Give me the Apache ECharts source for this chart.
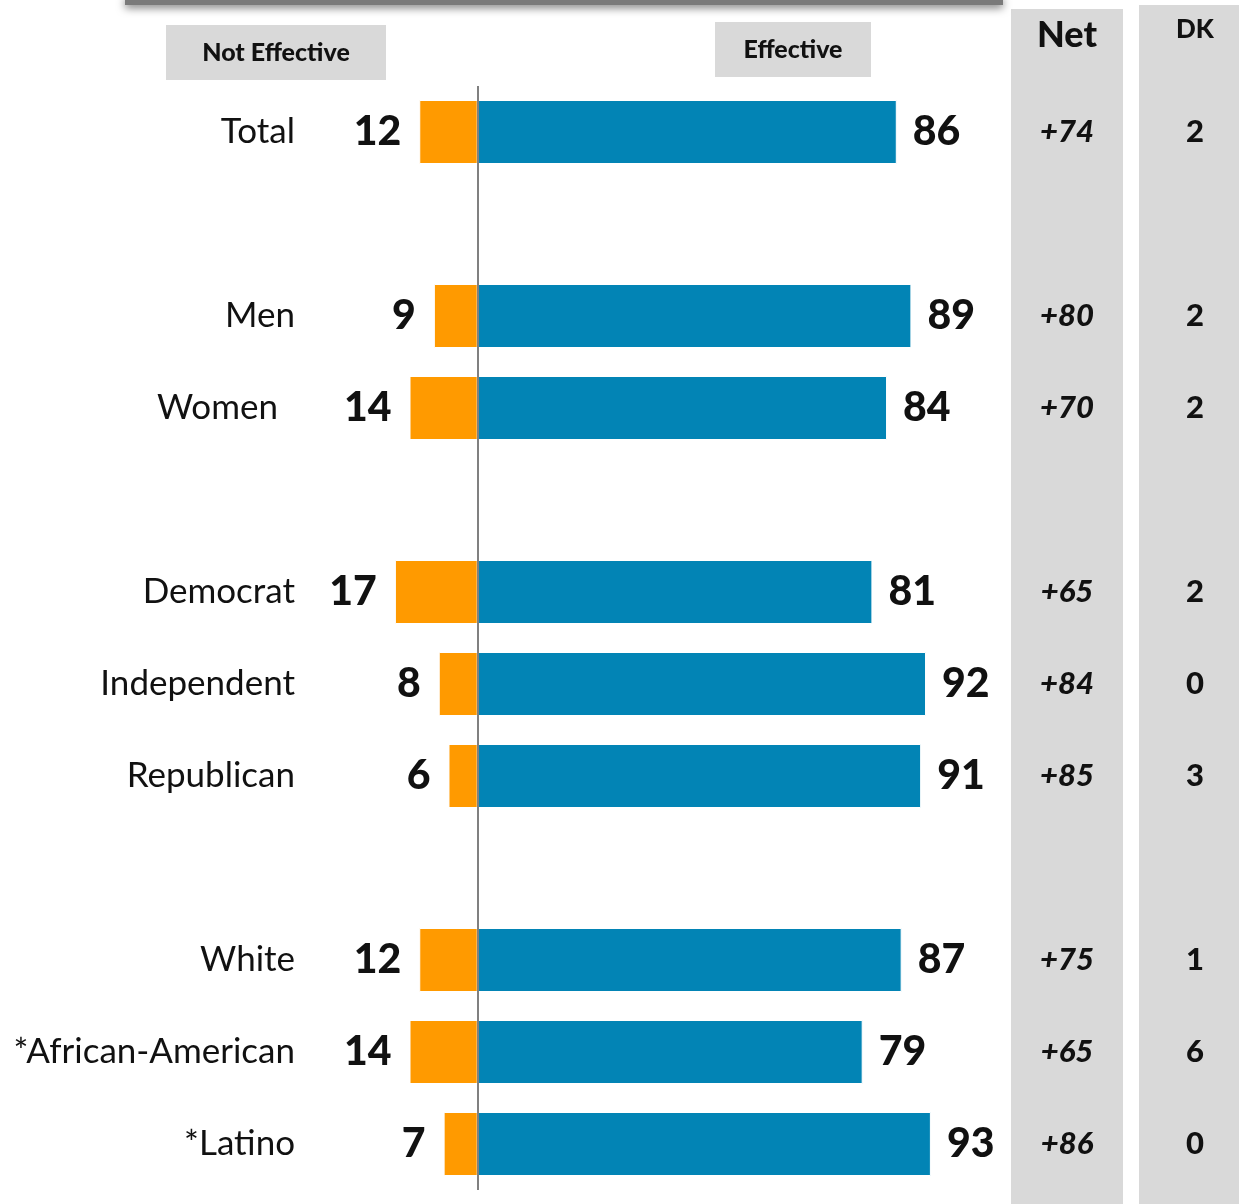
<!DOCTYPE html>
<html>
<head>
<meta charset="utf-8">
<script src="https://cdn.jsdelivr.net/npm/echarts@6/dist/echarts.min.js"></script>
<style>
  html, body { margin: 0; padding: 0; background: #fff; }
  #chart { width: 1239px; height: 1204px; }
</style>
</head>
<body>
<div id="chart"></div>
<script>
// rows with '' are spacer rows between groups
const categories = ['Total', '', 'Men', 'Women', '', 'Democrat', 'Independent', 'Republican', '', 'White', '*African-American', '*Latino'];
const notEffective = [12, null, 9, 14, null, 17, 8, 6, null, 12, 14, 7];
const effective = [86, null, 89, 84, null, 81, 92, 91, null, 87, 79, 93];
const net = [74, null, 80, 70, null, 65, 84, 85, null, 75, 65, 86];
const dk = [2, null, 2, 2, null, 2, 0, 3, null, 1, 6, 0];

const FONT = 'Lato, "Open Sans", sans-serif';

const chart = echarts.init(document.getElementById('chart'));

const netLabels = net.map(v => (v == null ? '' : '+' + v));
const dkLabels = dk.map(v => (v == null ? '' : String(v)));

const option = {
  animation: false,
  textStyle: { fontFamily: FONT },
  graphic: [
    // shadowed rule at top
    {
      type: 'rect', shape: { x: 125, y: -4, width: 878, height: 9 },
      style: { fill: '#7a7a7a', shadowBlur: 9, shadowOffsetY: 3, shadowColor: 'rgba(0,0,0,0.5)' },
      z: 10
    },
    // column backgrounds
    { type: 'rect', shape: { x: 1011, y: 9, width: 112, height: 1200 }, style: { fill: '#d9d9d9' }, z: -10 },
    { type: 'rect', shape: { x: 1139, y: 5, width: 100, height: 1204 }, style: { fill: '#d9d9d9' }, z: -10 },
    { type: 'text', style: { text: 'Net', x: 1067, y: 35, align: 'center', verticalAlign: 'middle',
        font: '900 36px ' + FONT, fill: '#111' } },
    { type: 'text', style: { text: 'DK', x: 1195, y: 30, align: 'center', verticalAlign: 'middle',
        font: '900 26px ' + FONT, fill: '#111' } },
    // header tags
    { type: 'rect', shape: { x: 166, y: 25, width: 220, height: 55 }, style: { fill: '#d9d9d9' } },
    { type: 'text', style: { text: 'Not Effective', x: 276, y: 53, align: 'center', verticalAlign: 'middle',
        font: '900 25px ' + FONT, fill: '#111' } },
    { type: 'rect', shape: { x: 715, y: 22, width: 156, height: 55 }, style: { fill: '#d9d9d9' } },
    { type: 'text', style: { text: 'Effective', x: 793, y: 50, align: 'center', verticalAlign: 'middle',
        font: '900 25px ' + FONT, fill: '#111' } }
  ],
  grid: { left: 295, width: 670, top: 86, height: 1104 },
  xAxis: {
    type: 'value', min: -37.5, max: 100,
    show: false
  },
  yAxis: [
    {
      type: 'category', data: categories, inverse: true,
      axisLine: { show: false, onZero: false }, axisTick: { show: false },
      axisLabel: {
        margin: 0, fontSize: 35, color: '#111', fontFamily: FONT,
        // "Women" sits a little left of the others in the original
        formatter: v => (v === 'Women' ? '{w|' + v + '}' : v),
        rich: { w: { fontSize: 35, color: '#111', fontFamily: FONT, padding: [0, 17, 0, 0] } }
      }
    },
    {
      type: 'category', data: netLabels, inverse: true, position: 'right',
      axisLine: { show: false }, axisTick: { show: false },
      axisLabel: { margin: 102, align: 'center', fontSize: 31, fontWeight: 900, fontStyle: 'italic',
        color: '#111', fontFamily: FONT }
    },
    {
      type: 'category', data: dkLabels, inverse: true, position: 'right',
      axisLine: { show: false }, axisTick: { show: false },
      axisLabel: { margin: 230, align: 'center', fontSize: 31, fontWeight: 900,
        color: '#111', fontFamily: FONT }
    }
  ],
  series: [
    {
      name: 'Not Effective', type: 'bar', stack: 'total', barWidth: 64,
      data: notEffective.map(v => (v == null ? null : -v)),
      itemStyle: { color: '#ff9a00', borderColor: '#fff', borderWidth: 1 },
      label: {
        show: true, position: 'left', distance: 18,
        formatter: p => Math.abs(p.value),
        fontSize: 41, fontWeight: 900, color: '#111', fontFamily: FONT
      },
      markLine: {
        silent: true, symbol: 'none', label: { show: false },
        lineStyle: { color: '#808080', width: 2, type: 'solid' },
        data: [{ xAxis: 0 }]
      }
    },
    {
      name: 'Effective', type: 'bar', stack: 'total', barWidth: 64,
      data: effective,
      itemStyle: { color: '#0284b5', borderColor: '#fff', borderWidth: 1 },
      label: {
        show: true, position: 'right', distance: 16,
        fontSize: 41, fontWeight: 900, color: '#111', fontFamily: FONT
      }
    }
  ]
};

chart.setOption(option);
</script>
</body>
</html>
